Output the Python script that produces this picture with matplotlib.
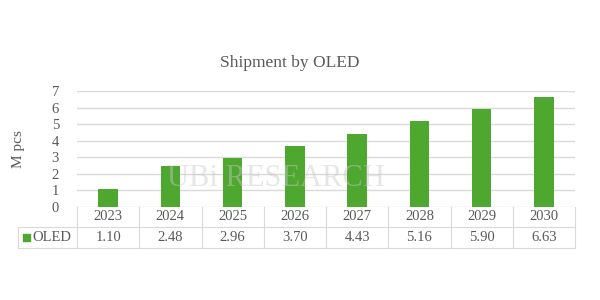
import matplotlib
matplotlib.use("Agg")
import matplotlib.pyplot as plt
from matplotlib.patches import Rectangle
from matplotlib.lines import Line2D

years = ["2023", "2024", "2025", "2026", "2027", "2028", "2029", "2030"]
oled = [1.10, 2.48, 2.96, 3.70, 4.43, 5.16, 5.90, 6.63]
series_name = "OLED"
title = "Shipment by OLED"
ylabel = "M pcs"
yticks = [0, 1, 2, 3, 4, 5, 6, 7]

green = "#4ea72e"
txt = "#595959"
gridc = "#d9d9d9"
plt.rcParams["font.family"] = ["Liberation Serif", "DejaVu Serif"]

fig = plt.figure(figsize=(6, 3), dpi=100)
fig.patch.set_facecolor("white")
ax = fig.add_axes([77 / 600, 1 - 207 / 300, 498 / 600, 116 / 300])

x = list(range(len(years)))
ax.bar(x, oled, width=0.31, color=green, zorder=3)
ax.set_xlim(-0.5, len(years) - 0.5)
ax.set_ylim(0, 7)
ax.set_yticks(yticks)
ax.set_yticklabels([str(t) for t in yticks], fontsize=10.5, color=txt)
ax.tick_params(axis="y", length=0, pad=13)
ax.set_xticks([])
ax.grid(axis="y", color=gridc, linewidth=1, zorder=0)
for s in ax.spines.values():
    s.set_visible(False)
ax.set_ylabel(ylabel, fontsize=11, color=txt, labelpad=19)
fig.text(0.483, 1 - 63 / 300, title, ha="center", va="center", fontsize=12.5, color=txt)

# watermark
fig.text(0.46, 1 - 178 / 300, "UBi RESEARCH", ha="center", va="center",
         fontsize=22, color="#c8c8c8", alpha=0.45, zorder=1)

# data table below the axes
h1 = -20 / 116
h2 = -41 / 116
left = -59 / 498
tr = ax.transAxes
lw = 0.8
for yv in [h1, h2]:
    ax.add_line(Line2D([left, 1], [yv, yv], transform=tr, color=gridc, lw=lw, clip_on=False))
for k in range(len(years) + 1):
    xf = k / len(years)
    ax.add_line(Line2D([xf, xf], [0, h2], transform=tr, color=gridc, lw=lw, clip_on=False))
ax.add_line(Line2D([left, left], [h1, h2], transform=tr, color=gridc, lw=lw, clip_on=False))
for i, (yr, v) in enumerate(zip(years, oled)):
    xf = (i + 0.5) / len(years)
    ax.text(xf, h1 / 2, yr, transform=tr, ha="center", va="center", fontsize=10.5, color=txt, clip_on=False)
    ax.text(xf, (h1 + h2) / 2, f"{v:.2f}", transform=tr, ha="center", va="center", fontsize=10.5, color=txt, clip_on=False)
ax.add_patch(Rectangle((left + 5 / 498, (h1 + h2) / 2 - 3.5 / 116), 7 / 498, 7 / 116,
                       transform=tr, color=green, clip_on=False))
ax.text(left + 14 / 498, (h1 + h2) / 2, series_name, transform=tr, ha="left", va="center",
        fontsize=10.5, color=txt, clip_on=False)

fig.savefig("out.png", dpi=100)
